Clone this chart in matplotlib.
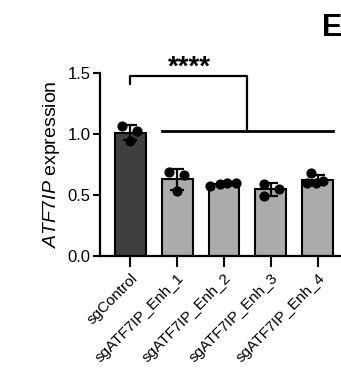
import numpy as np
import matplotlib
matplotlib.use("Agg")
import matplotlib.pyplot as plt

plt.rcParams['font.family'] = ['Liberation Sans', 'DejaVu Sans']
plt.rcParams['mathtext.fontset'] = 'custom'
plt.rcParams['mathtext.rm'] = 'Liberation Sans'
plt.rcParams['mathtext.it'] = 'Liberation Sans:italic'

# data
groups = ["sgControl", "sgATF7IP_Enh_1", "sgATF7IP_Enh_2", "sgATF7IP_Enh_3", "sgATF7IP_Enh_4"]
reps = [
    [1.06, 1.02, 0.94],
    [0.69, 0.66, 0.53],
    [0.575, 0.59, 0.60, 0.60],
    [0.59, 0.55, 0.49],
    [0.675, 0.60, 0.60, 0.612],
]
# horizontal scatter of the replicate dots (as drawn by Prism)
jitter = [
    [-0.17, 0.15, 0.0],
    [-0.18, 0.14, 0.0],
    [-0.29, -0.08, 0.07, 0.25],
    [-0.15, 0.18, -0.15],
    [-0.15, -0.22, -0.04, 0.12],
]
bar_colors = ["#3f3f3f", "#ababab", "#ababab", "#ababab", "#ababab"]
sig_label = "****"

means = [np.mean(r) for r in reps]
sds = [np.std(r, ddof=1) for r in reps]

fig = plt.figure(figsize=(3.41, 3.79), dpi=100)
ax = fig.add_axes([100 / 341, 1 - 255.7 / 379, 241 / 341, 183 / 379])

x = np.arange(len(groups))
w = 0.66
ax.bar(x, means, width=w, color=bar_colors, edgecolor="black", linewidth=1.5, zorder=2)
ax.errorbar(x, means, yerr=sds, fmt="none", ecolor="black", elinewidth=1.6,
            capsize=5, capthick=1.6, zorder=3)
for i, r in enumerate(reps):
    ax.scatter(x[i] + np.array(jitter[i]), r, s=40, color="black", zorder=4, clip_on=False)

ax.set_xlim(-0.65, 4.5)
ax.set_ylim(0, 1.5)
ax.set_yticks([0, 0.5, 1.0, 1.5])
ax.set_yticklabels(["0.0", "0.5", "1.0", "1.5"], fontsize=12)
ax.set_xticks(x)
ax.set_xticklabels(groups, rotation=45, ha="right", rotation_mode="anchor", fontsize=11)
ax.tick_params(axis="y", length=5, width=1.5, pad=2)
ax.tick_params(axis="x", length=8, width=1.5, pad=3)
for s in ["top", "right"]:
    ax.spines[s].set_visible(False)
for s in ["left", "bottom"]:
    ax.spines[s].set_linewidth(1.6)

ax.set_ylabel(r"$\it{ATF7IP}$ expression", fontsize=14, labelpad=4)

# significance bracket
mid = (1 - w / 2 + 4 + w / 2) / 2
ax.plot([1 - w / 2, 4 + w / 2], [1.02, 1.02], color="black", lw=2, clip_on=False)
ax.plot([0, 0, mid, mid], [1.41, 1.47, 1.47, 1.02], color="black", lw=1.6, clip_on=False)
ax.text(mid / 2, 1.545, sig_label, ha="center", va="center", fontsize=20, fontweight="bold")

fig.text(322 / 341, 1 - 36 / 379, "E", fontsize=22, fontweight="bold", ha="left", va="baseline")

fig.savefig("out.png", dpi=100)
